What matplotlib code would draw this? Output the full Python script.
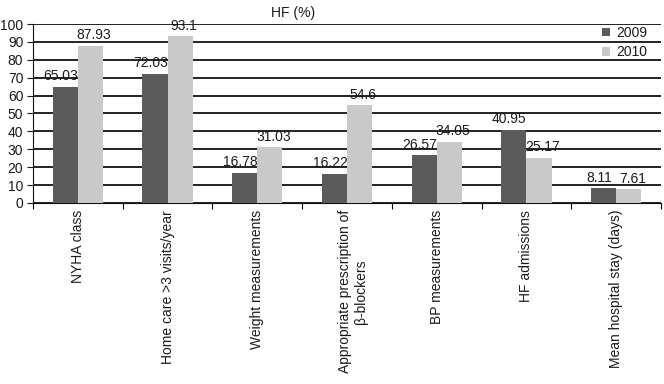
import matplotlib
matplotlib.use("Agg")
import matplotlib.pyplot as plt
from matplotlib.transforms import ScaledTranslation
import numpy as np

plt.rcParams['font.family'] = ['Liberation Sans', 'DejaVu Sans']

categories = ["NYHA class", "Home care >3 visits/year", "Weight measurements",
              "Appropriate prescription of\nβ-blockers", "BP measurements",
              "HF admissions", "Mean hospital stay (days)"]
v2009 = [65.03, 72.03, 16.78, 16.22, 26.57, 40.95, 8.11]
v2010 = [87.93, 93.1, 31.03, 54.6, 34.05, 25.17, 7.61]
lab2009 = ["65.03", "72.03", "16.78", "16.22", "26.57", "40.95", "8.11"]
lab2010 = ["87.93", "93.1", "31.03", "54.6", "34.05", "25.17", "7.61"]

FS = 10
TXT = "#1a1a1a"

fig = plt.figure(figsize=(6.64, 3.84), dpi=100)
ax = fig.add_axes([0.0497, 0.4714, 0.9458, 0.4661])

x = np.arange(len(categories))
w = 0.28
b1 = ax.bar(x - w/2, v2009, w, color="#5b5b5b", label="2009", zorder=3)
b2 = ax.bar(x + w/2, v2010, w, color="#c9c9c9", label="2010", zorder=3)

for rect, t in zip(b1, lab2009):
    ax.text(rect.get_x() + rect.get_width()/2 - 0.05, rect.get_height() + 2.0, t,
            ha="center", va="bottom", fontsize=FS, color=TXT, zorder=4)
for rect, t in zip(b2, lab2010):
    ax.text(rect.get_x() + rect.get_width()/2 + 0.04, rect.get_height() + 2.0, t,
            ha="center", va="bottom", fontsize=FS, color=TXT, zorder=4)

ax.set_xlim(-0.5, len(categories) - 0.5)
ax.set_ylim(0, 100)
ax.set_yticks(range(0, 101, 10))
ax.tick_params(axis='y', labelsize=FS, length=4, pad=3, colors=TXT, width=0.8)
ax.yaxis.grid(True, color="#111111", linewidth=1.3, zorder=0)
ax.set_axisbelow(True)

ax.set_xticks(np.arange(-0.5, len(categories), 1.0), minor=False)
ax.set_xticklabels([])
ax.tick_params(axis='x', which='major', length=4, direction='out', width=0.8)
ax.set_xticks(x, minor=True)
ax.set_xticklabels(categories, minor=True, rotation=90, fontsize=FS, ha="center", va="top",
                   multialignment="center", color=TXT)
ax.tick_params(axis='x', which='minor', length=0, pad=5)
for lbl in ax.get_xticklabels(minor=True):
    if "\n" in lbl.get_text():
        lbl.set_transform(lbl.get_transform() + ScaledTranslation(0.06, 0, fig.dpi_scale_trans))

for s in ["top", "right"]:
    ax.spines[s].set_visible(False)
for s in ["left", "bottom"]:
    ax.spines[s].set_color("#111111")
    ax.spines[s].set_linewidth(0.8)

ax.set_title("HF (%)", fontsize=FS, pad=5, x=0.414, color=TXT)

leg = ax.legend(loc="upper right", frameon=False, fontsize=FS, handlelength=0.55, handleheight=0.55,
                handletextpad=0.45, labelspacing=0.4, borderpad=0, borderaxespad=0,
                bbox_to_anchor=(0.978, 0.99))
for t in leg.get_texts():
    t.set_color(TXT)

fig.savefig("out.png", dpi=100)
